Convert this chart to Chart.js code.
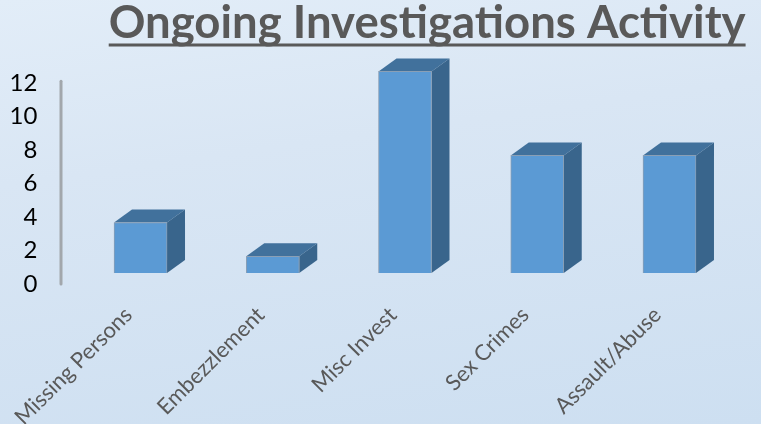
<!DOCTYPE html>
<html>
<head>
<meta charset="utf-8">
<title>Ongoing Investigations Activity</title>
<script src="https://cdn.jsdelivr.net/npm/chart.js@4/dist/chart.umd.min.js"></script>
<style>
  html, body { margin: 0; padding: 0; width: 761px; height: 424px; overflow: hidden; }
  body { background: linear-gradient(172deg, #e2edf8 0%, #d9e6f4 35%, #cddff1 100%); }
  canvas { display: block; }
</style>
</head>
<body>
<canvas id="chart" width="761" height="424"></canvas>
<script>
/* Data */
let categories = ['Missing Persons', 'Embezzlement', 'Misc Invest', 'Sex Crimes', 'Assault/Abuse']
let caseCounts = [3, 1, 12, 7, 7]
let tickValues = [0, 2, 4, 6, 8, 10, 12]
let chartTitle = 'Ongoing Investigations Activity'

/* Look of the fake 3D bars */
let depthX = 18
let depthY = -13
let frontColor = '#5b9ad4'
let topColor = '#41719c'
let sideColor = '#39658c'
let edgeColor = '#8a9fb5'

/* draws the top and side of each bar, behind the front face */
let barDepth = {
    id: 'barDepth',
    beforeDatasetsDraw(chart) {
        let c = chart.ctx
        chart.getDatasetMeta(0).data.forEach(function (bar) {
            let left = bar.x - bar.width / 2
            let right = bar.x + bar.width / 2

            c.fillStyle = topColor
            c.beginPath()
            c.moveTo(left, bar.y)
            c.lineTo(left + depthX, bar.y + depthY)
            c.lineTo(right + depthX, bar.y + depthY)
            c.lineTo(right, bar.y)
            c.closePath()
            c.fill()

            c.fillStyle = sideColor
            c.beginPath()
            c.moveTo(right, bar.y)
            c.lineTo(right + depthX, bar.y + depthY)
            c.lineTo(right + depthX, bar.base + depthY)
            c.lineTo(right, bar.base)
            c.closePath()
            c.fill()
        })
    }
}

/* the thick grey axis sits left of the plot, and the title has an underline */
let axisAndUnderline = {
    id: 'axisAndUnderline',
    afterDraw(chart) {
        let c = chart.ctx
        let axis = chart.scales.yAxisLabels

        c.save()
        c.strokeStyle = '#a2a7ac'
        c.lineWidth = 3
        c.lineCap = 'round'
        c.beginPath()
        c.moveTo(61, axis.getPixelForValue(tickValues[0]))
        c.lineTo(61, axis.getPixelForValue(12.1))
        c.stroke()

        let title = chart.options.plugins.title
        c.font = title.font.weight + ' ' + title.font.size + 'px ' + title.font.family
        let titleWidth = c.measureText(chartTitle).width
        c.strokeStyle = title.color
        c.lineWidth = 3
        c.lineCap = 'butt'
        c.beginPath()
        c.moveTo(chart.titleBlock.right - titleWidth, 45)
        c.lineTo(chart.titleBlock.right, 45)
        c.stroke()
        c.restore()
    }
}

let chart = new Chart(document.getElementById('chart').getContext('2d'), {
    type: 'bar',
    data: {
        labels: categories,
        datasets: [{
            data: caseCounts,
            backgroundColor: frontColor,
            borderColor: edgeColor,
            borderWidth: 1,
            barThickness: 53,
            yAxisID: 'y'
        }]
    },
    plugins: [barDepth, axisAndUnderline],
    options: {
        responsive: false,
        animation: false,
        layout: { padding: { left: 0, right: 15.4, top: 0, bottom: 0 } },
        plugins: {
            legend: { display: false },
            tooltip: { enabled: false },
            title: {
                display: true,
                text: chartTitle,
                align: 'end',
                color: '#595959',
                font: { family: 'Lato', size: 45.5, weight: 'bold', lineHeight: 1 },
                padding: { top: 1, bottom: 13.5 }
            }
        },
        scales: {
            x: {
                grid: { display: false },
                border: { display: false },
                ticks: {
                    color: '#595959',
                    font: { family: 'Lato', size: 22 },
                    minRotation: 45,
                    maxRotation: 45,
                    autoSkip: false,
                    padding: -6,
                    labelOffset: -12
                },
                afterFit(scale) { scale.height = 124 }
            },
            // scale for the bars, it only reserves a bit of room on the right
            y: {
                position: 'right',
                min: -1.607,
                max: 12.68,
                grid: { display: false },
                border: { display: false },
                ticks: { display: false },
                afterFit(scale) { scale.width = 10 }
            },
            // printed numbers sit a little below the bars' own zero
            yAxisLabels: {
                position: 'left',
                min: -0.955,
                max: 13.37,
                grid: { display: false },
                border: { display: false },
                afterBuildTicks(scale) {
                    scale.ticks = tickValues.map(function (v) { return { value: v } })
                },
                ticks: {
                    color: '#000000',
                    font: { family: 'Lato', size: 24 },
                    padding: 29
                },
                afterFit(scale) { scale.width = 74.4 }
            }
        }
    }
})
</script>
</body>
</html>
